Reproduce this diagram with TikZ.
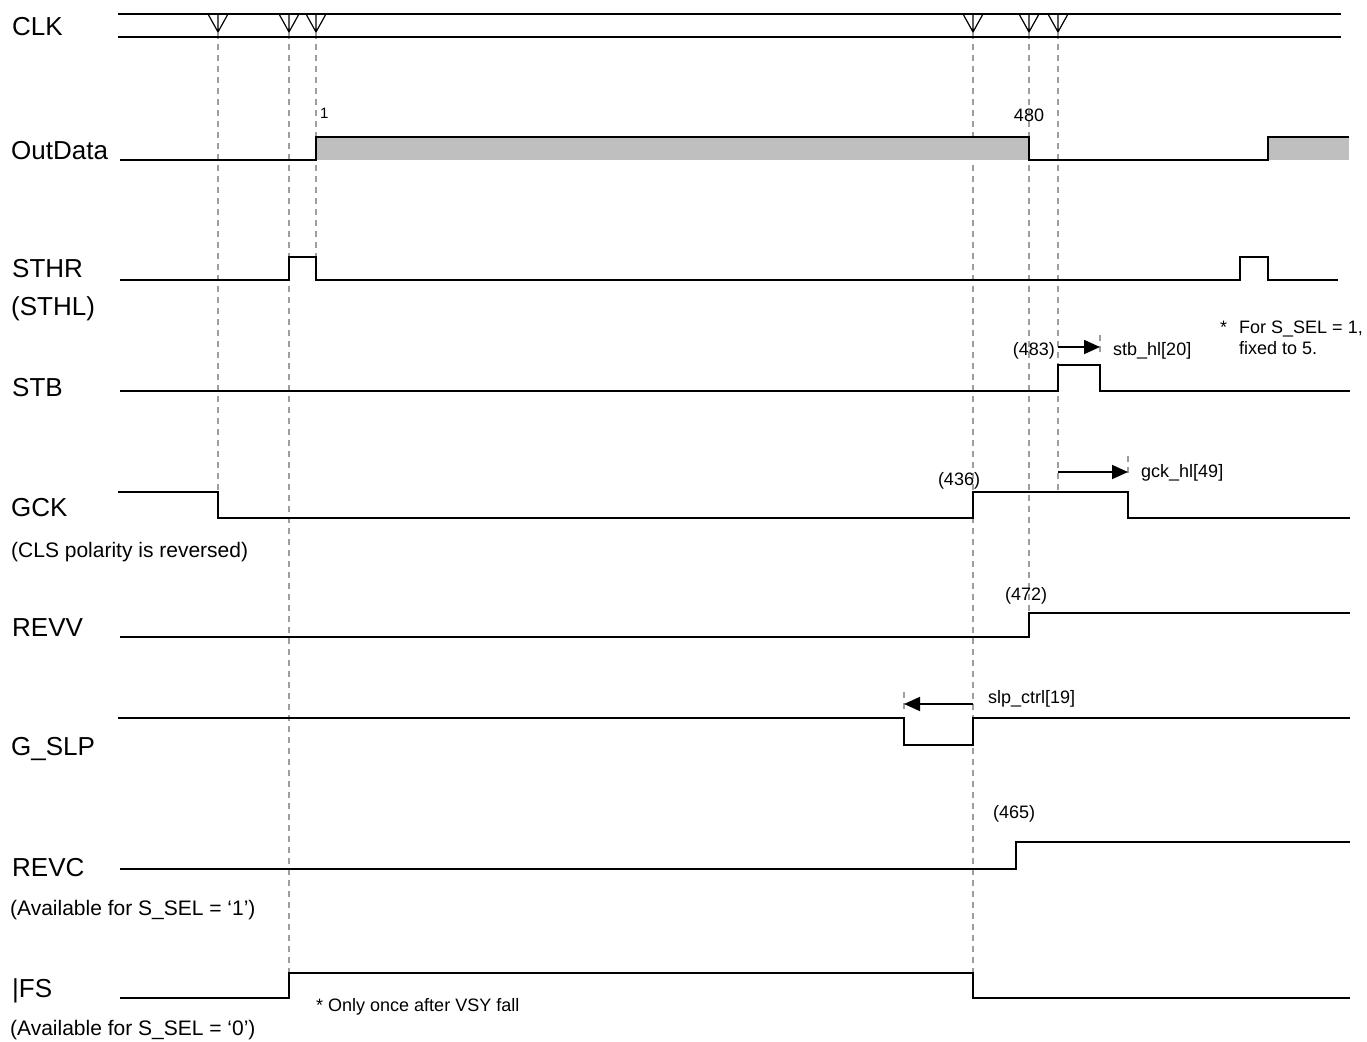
\documentclass[tikz,border=0pt]{standalone}
\usepackage{fontspec}
\setmainfont{Liberation Sans}
\usetikzlibrary{arrows.meta}
\begin{document}
\begin{tikzpicture}[x=1pt,y=-1pt,
  sig/.style={line width=1.9pt,line join=miter},
  sigthin/.style={line width=1.5pt,line join=miter},
  guide/.style={draw=black!38,line width=1.5pt,dash pattern=on 6pt off 5pt},
  clkmark/.style={line width=1.2pt},
  lbl/.style={anchor=base west,inner sep=0pt,font=\fontsize{26}{30}\selectfont},
  sub/.style={anchor=base west,inner sep=0pt,font=\fontsize{21}{25}\selectfont},
  ann/.style={inner sep=0pt,font=\fontsize{18}{22}\selectfont},
  harrow/.style={line width=1.8pt,-{Triangle[length=16pt,width=14pt]}},
  datafill/.style={fill=black!25},
]
\useasboundingbox (0,0) rectangle (1367,1041);

% guide lines
\draw[guide] (218,33) -- (218,518);
\draw[guide] (289,33) -- (289,973);
\draw[guide] (316,33) -- (316,280);
\draw[guide] (973,33) -- (973,998);
\draw[guide] (1029,33) -- (1029,637);
\draw[guide] (1058,33) -- (1058,490);
\draw[guide] (1100,335) -- (1100,357);
\draw[guide] (1128,456) -- (1128,478);
\draw[guide] (904,692) -- (904,714);

% CLK
\draw[sig] (118,14) -- (1341,14);
\draw[sig] (118,37) -- (1341,37);
\foreach \x in {218,289,316,973,1029,1058}
  \draw[clkmark] (\x-10,14) -- (\x,32) -- (\x+10,14) (\x,14) -- (\x,32);

% OutData
\fill[datafill] (316,137) rectangle (1029,160);
\fill[datafill] (1268,137) rectangle (1349,160);
\draw[sig] (120,160) -- (316,160) -- (316,137) -- (1029,137) -- (1029,160)
  -- (1268,160) -- (1268,137) -- (1349,137);

% STHR
\draw[sigthin] (120,280) -- (289,280) -- (289,257) -- (316,257) -- (316,280)
  -- (1240,280) -- (1240,257) -- (1268,257) -- (1268,280) -- (1338,280);

% STB
\draw[sigthin] (120,391) -- (1058,391) -- (1058,365) -- (1100,365) -- (1100,391) -- (1350,391);

% GCK
\draw[sig] (118,492) -- (218,492) -- (218,518) -- (973,518) -- (973,492)
  -- (1128,492) -- (1128,518) -- (1350,518);

% REVV
\draw[sigthin] (120,637) -- (1029,637) -- (1029,613) -- (1350,613);

% G_SLP
\draw[sig] (118,718) -- (904,718) -- (904,745) -- (973,745) -- (973,718) -- (1350,718);

% REVC
\draw[sigthin] (120,869) -- (1016,869) -- (1016,842) -- (1350,842);

% FS
\draw[sig] (120,998) -- (289,998) -- (289,973) -- (973,973) -- (973,998) -- (1350,998);

% arrows
\coordinate (stbA) at (1058,347);
\coordinate (stbB) at (1100,347);
\coordinate (gckA) at (1058,472);
\coordinate (gckB) at (1128,472);
\coordinate (slpA) at (973,704);
\coordinate (slpB) at (904,704);
\draw[harrow] (stbA) -- (stbB);
\draw[harrow] (gckA) -- (gckB);
\draw[harrow] (slpA) -- (slpB);

% signal labels
\node[lbl] (lclk) at (12,36) {CLK};
\node[lbl] (lout) at (11,159) {OutData};
\node[lbl] (lsthr) at (12,277) {STHR};
\node[lbl] (lsthl) at (11,315) {(STHL)};
\node[lbl] (lstb) at (12,396) {STB};
\node[lbl] (lgck) at (11,516) {GCK};
\node[sub] (lcls) at (11,557) {(CLS polarity is reversed)};
\node[lbl] (lrevv) at (12,636) {REVV};
\node[lbl] (lgslp) at (11,755) {G\_SLP};
\node[lbl] (lrevc) at (12,876) {REVC};
\node[sub] (lav1) at (10,915) {(Available for S\_SEL = ‘1’)};
\node[lbl] (lfs) at (12,997) {|FS};
\node[sub] (lav0) at (10,1035) {(Available for S\_SEL = ‘0’)};

% annotations
\node[ann,anchor=base west,font=\fontsize{15}{18}\selectfont] (n1) at (320,118) {1};
\node[ann,anchor=base] (n480) at (1029,121) {480};
\node[ann,anchor=base east] (n483) at (1055,355) {(483)};
\node[ann,anchor=base west] (nstb) at (1113,355) {stb\_hl[20]};
\node[ann,anchor=base west] (nstar) at (1220,333) {*};
\node[ann,anchor=base west] (nfor) at (1239,333) {For S\_SEL = 1,};
\node[ann,anchor=base west] (nfix) at (1239,354) {fixed to 5.};
\node[ann,anchor=base] (n436) at (959,485) {(436)};
\node[ann,anchor=base west] (ngck) at (1141,477) {gck\_hl[49]};
\node[ann,anchor=base west] (n472) at (1005,600) {(472)};
\node[ann,anchor=base west] (nslp) at (988,703) {slp\_ctrl[19]};
\node[ann,anchor=base west] (n465) at (993,818) {(465)};
\node[ann,anchor=base west] (nonce) at (316,1011) {* Only once after VSY fall};
\end{tikzpicture}
\end{document}
